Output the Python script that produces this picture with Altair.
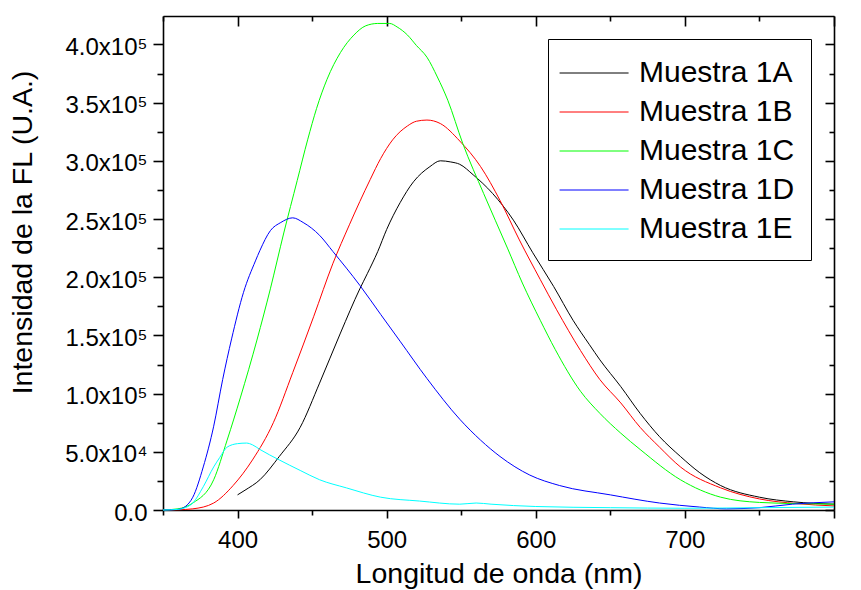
import altair as alt
import pandas as pd

# Emission spectra, wavelength in nm, intensity in arbitrary units
series_names = ["Muestra 1A", "Muestra 1B", "Muestra 1C", "Muestra 1D", "Muestra 1E"]
series_colors = ["#000000", "#ff0000", "#00ff00", "#0000ff", "#00ffff"]

wl_1a = [400, 405, 415, 428, 442, 455, 469, 482, 487, 494, 500, 509, 518, 529, 536, 543,
         549, 558, 571, 585, 598, 612, 625, 636, 643, 657, 670, 683, 697, 710, 724, 750, 773, 800]
fl_1a = [13000, 17000, 26000, 46000, 71000, 109000, 152000, 190000, 203000, 222000, 241000,
         264000, 282000, 295000, 300000, 299000, 297000, 288000, 272000, 249000, 221000, 192000,
         163000, 142000, 129000, 106000, 83000, 63000, 46000, 32000, 21000, 11000, 7000, 5000]

wl_1b = [350, 360, 370, 384, 397, 410, 424, 437, 451, 464, 475, 482, 489, 496, 504, 514, 520,
         527, 536, 549, 563, 576, 589, 603, 614, 630, 643, 657, 670, 683, 697, 724, 750, 775, 800]
fl_1b = [0, 200, 1000, 6000, 21000, 43000, 75000, 118000, 166000, 212000, 245000, 265000,
         284000, 302000, 318000, 330000, 334000, 335000, 332000, 317000, 295000, 266000, 232000,
         198000, 172000, 137000, 112000, 92000, 71000, 54000, 37000, 19000, 9500, 5500, 3500]

wl_1c = [350, 360, 370, 384, 393, 402, 413, 422, 431, 440, 447, 453, 460, 469, 478, 486,
         494, 502, 507, 514, 520, 527, 534, 541, 551, 565, 581, 591, 603, 613, 630, 643, 657,
         670, 697, 724, 750, 775, 800]
fl_1c = [0, 1000, 6000, 26000, 60000, 97000, 146000, 190000, 238000, 283000, 318000, 345000,
         370000, 393000, 408000, 416000, 418000, 418000, 415000, 408000, 399000, 389000,
         372000, 352000, 315000, 272000, 225000, 195000, 163000, 138000, 102000, 83000, 66000,
         52000, 26000, 11000, 6500, 5500, 5000]

wl_1d = [350, 360, 365, 370, 377, 384, 390, 396, 404, 412, 415, 422, 429, 437, 444, 455, 464,
         482, 496, 509, 527, 549, 563, 576, 596, 616, 650, 683, 710, 728, 750, 772, 800]
fl_1d = [0, 500, 3000, 11000, 37000, 72000, 112000, 147000, 187000, 214000, 223000, 240000,
         247000, 251000, 247000, 236000, 222000, 193000, 168000, 145000, 113000, 78000, 60000,
         46000, 30000, 21000, 13000, 6000, 2500, 1000, 2000, 5000, 7000]

wl_1e = [350, 360, 365, 370, 377, 384, 388, 393, 400, 406, 410, 415, 428, 442, 455, 473, 496,
         522, 549, 560, 570, 600, 650, 700, 750, 800]
fl_1e = [0, 500, 2000, 6000, 20000, 37000, 45000, 54000, 57000, 57500, 56000, 52000, 43000,
         34000, 26000, 19000, 11000, 7700, 5000, 6000, 5000, 3000, 2000, 1500, 2000, 2500]

rows = []
for name, wl, fl in zip(series_names,
                        [wl_1a, wl_1b, wl_1c, wl_1d, wl_1e],
                        [fl_1a, fl_1b, fl_1c, fl_1d, fl_1e]):
    for w, v in zip(wl, fl):
        rows.append({"wl": w, "fl": v, "muestra": name})
df = pd.DataFrame(rows)

W, H = 671, 494
FONT = "Liberation Sans"

x_scale = alt.Scale(domain=[350, 800], nice=False, zero=False)
y_scale = alt.Scale(domain=[0, 424400], nice=False, zero=False)

x_ticks = list(range(350, 801, 50))
y_ticks = list(range(0, 400001, 25000))

x_major = "datum.value % 100 == 0"
y_major = "datum.value % 50000 == 0"

y_label_expr = (
    "datum.value % 50000 != 0 ? '' : datum.value == 0 ? '0.0' : "
    "datum.value < 100000 ? format(datum.value / 10000, '.1f') + 'x10⁴' : "
    "format(datum.value / 100000, '.1f') + 'x10⁵'"
)

axis_style = dict(grid=False, domainColor="black", domainWidth=1.6, tickColor="black",
                  tickWidth=1.6, labelFont=FONT, labelFontSize=24, labelColor="black")
title_style = dict(titleFont=FONT, titleFontSize=28.5, titleFontWeight="normal",
                   titleColor="black")

lines = alt.Chart(df).mark_line(strokeWidth=1, interpolate="monotone").encode(
    x=alt.X("wl:Q", scale=x_scale,
            axis=alt.Axis(values=x_ticks, orient="bottom",
                          labelExpr=f"{x_major} ? format(datum.value, 'd') : ''",
                          tickSize={"condition": {"test": x_major, "value": 8}, "value": 5},
                          labelPadding=10, title="Longitud de onda (nm)", titleY=49,
                          **axis_style, **title_style)),
    y=alt.Y("fl:Q", scale=y_scale,
            axis=alt.Axis(values=y_ticks, orient="left", labelExpr=y_label_expr,
                          tickSize={"condition": {"test": y_major, "value": 10}, "value": 6},
                          labelPadding=6, labelOffset=3,
                          title="Intensidad de la FL (U.A.)", titleX=-126, titleY=216,
                          **axis_style, **title_style)),
    color=alt.Color("muestra:N",
                    scale=alt.Scale(domain=series_names, range=series_colors),
                    legend=alt.Legend(title=None, orient="none", legendX=385, legendY=23,
                                      symbolType="M-1.3,0H2.7", symbolSize=1190,
                                      symbolStrokeWidth=1, labelFont=FONT,
                                      labelFontSize=30, labelColor="black",
                                      labelOffset=39, rowPadding=6,
                                      strokeColor="black", fillColor="white",
                                      padding=16)),
)

# Mirrored top and right axes with inward ticks, closing the frame
frame = alt.Chart(df).mark_line(strokeOpacity=0).encode(
    x=alt.X("wl:Q", scale=x_scale,
            axis=alt.Axis(values=x_ticks, orient="bottom", offset=-H, labels=False,
                          title=None,
                          tickSize={"condition": {"test": x_major, "value": 10}, "value": 5},
                          **axis_style)),
    y=alt.Y("fl:Q", scale=y_scale,
            axis=alt.Axis(values=y_ticks, orient="left", offset=-W, labels=False,
                          title=None,
                          tickSize={"condition": {"test": y_major, "value": 9}, "value": 5},
                          **axis_style)),
    detail="muestra:N",
)

chart = alt.layer(lines, frame).resolve_axis(
    x="independent", y="independent"
).properties(
    width=W, height=H,
    autosize=alt.AutoSizeParams(type="none"),
    padding={"left": 163, "top": 16, "right": 27, "bottom": 80},
    background="white",
).configure_view(stroke=None)

chart.save("out.html", embed_options={"renderer": "svg", "actions": False})
